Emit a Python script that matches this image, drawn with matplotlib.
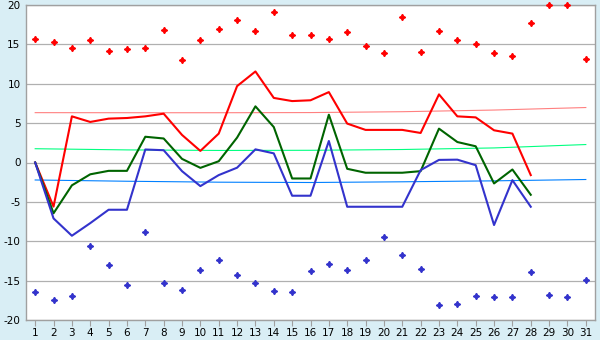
import matplotlib
matplotlib.use("Agg")
import matplotlib.pyplot as plt

days = list(range(1, 32))
line_days = list(range(1, 29))

max_t = [0, -5.6, 5.86, 5.15, 5.57, 5.65, 5.86, 6.2, 3.5, 1.47, 3.67, 9.7, 11.56, 8.2,
         7.8, 7.9, 8.94, 4.94, 4.14, 4.14, 4.14, 3.75, 8.65, 5.86, 5.73, 4.09, 3.67, -1.6]
mean_t = [0, -6.45, -2.9, -1.5, -1.06, -1.06, 3.27, 3.05, 0.46, -0.68, 0.16, 3.16, 7.13, 4.5,
          -2.03, -2.03, 6.07, -0.8, -1.3, -1.3, -1.3, -1.1, 4.3, 2.6, 2.06, -2.66, -0.89, -4.1]
min_t = [0, -7.1, -9.3, -7.7, -6.0, -6.0, 1.65, 1.56, -1.1, -3.0, -1.6, -0.66, 1.67, 1.16,
         -4.22, -4.22, 2.73, -5.62, -5.62, -5.62, -5.62, -0.97, 0.33, 0.36, -0.34, -7.94, -2.24, -5.62]

rec_high = [15.64, 15.26, 14.6, 15.6, 14.2, 14.4, 14.5, 16.8, 13.0, 15.5, 17.0, 18.05, 16.66,
            19.07, 16.15, 16.15, 15.64, 16.53, 14.75, 13.86, 18.43, 13.99, 16.66, 15.5, 15.0,
            13.86, 13.48, 17.67, 19.96, 19.96, 13.1]
rec_low = [-16.48, -17.5, -17.0, -10.65, -13.06, -15.6, -8.87, -15.34, -16.2, -13.7, -12.4,
           -14.3, -15.3, -16.36, -16.48, -13.8, -12.9, -13.7, -12.4, -9.5, -11.8, -13.56,
           -18.1, -18.0, -17.0, -17.1, -17.1, -13.94, -16.87, -17.1, -14.96]

trend_days = [1, 6, 11, 16, 21, 26, 31]
trend_max = [6.33, 6.32, 6.32, 6.34, 6.45, 6.66, 6.98]
trend_mean = [1.75, 1.6, 1.53, 1.55, 1.65, 1.85, 2.28]
trend_min = [-2.22, -2.38, -2.5, -2.54, -2.45, -2.33, -2.16]

yticks = [-20, -15, -10, -5, 0, 5, 10, 15, 20]

fig = plt.figure(figsize=(6, 3.4), dpi=100)
fig.patch.set_facecolor("#d9eef5")
ax = fig.add_axes([26 / 600, 20 / 340, 569 / 600, 315 / 340])
ax.set_facecolor("white")

for y in yticks:
    ax.axhline(y, color="#b0b0b0", lw=0.9, zorder=1)

ax.plot(trend_days, trend_max, color="#ff8080", lw=0.8, zorder=2)
ax.plot(trend_days, trend_mean, color="#00ff80", lw=0.8, zorder=2)
ax.plot(trend_days, trend_min, color="#0080ff", lw=0.8, zorder=2)

ax.plot(line_days, max_t, color="#ff0000", lw=1.5, zorder=3)
ax.plot(line_days, mean_t, color="#006400", lw=1.5, zorder=3)
ax.plot(line_days, min_t, color="#3333cc", lw=1.5, zorder=3)

ax.plot(days, rec_high, linestyle="none", marker=(4, 1, 0), markersize=4.5,
        color="#ff0000", zorder=4, clip_on=False)
ax.plot(days, rec_low, linestyle="none", marker=(4, 1, 0), markersize=4.5,
        color="#3333cc", zorder=4, clip_on=False)

ax.set_xlim(0.5, 31.5)
ax.set_ylim(-20, 20)
ax.set_xticks(days)
ax.set_xticklabels([str(d) for d in days])
ax.set_yticks(yticks)
ax.set_yticklabels([str(y) for y in yticks])
for s in ax.spines.values():
    s.set_color("#a0a0a0")
    s.set_linewidth(1.0)
ax.tick_params(axis="x", length=4, color="#a0a0a0", labelsize=7.5, pad=2)
ax.tick_params(axis="y", length=0, labelsize=7.5, pad=4)

fig.savefig("out.png", dpi=100, facecolor=fig.get_facecolor())
